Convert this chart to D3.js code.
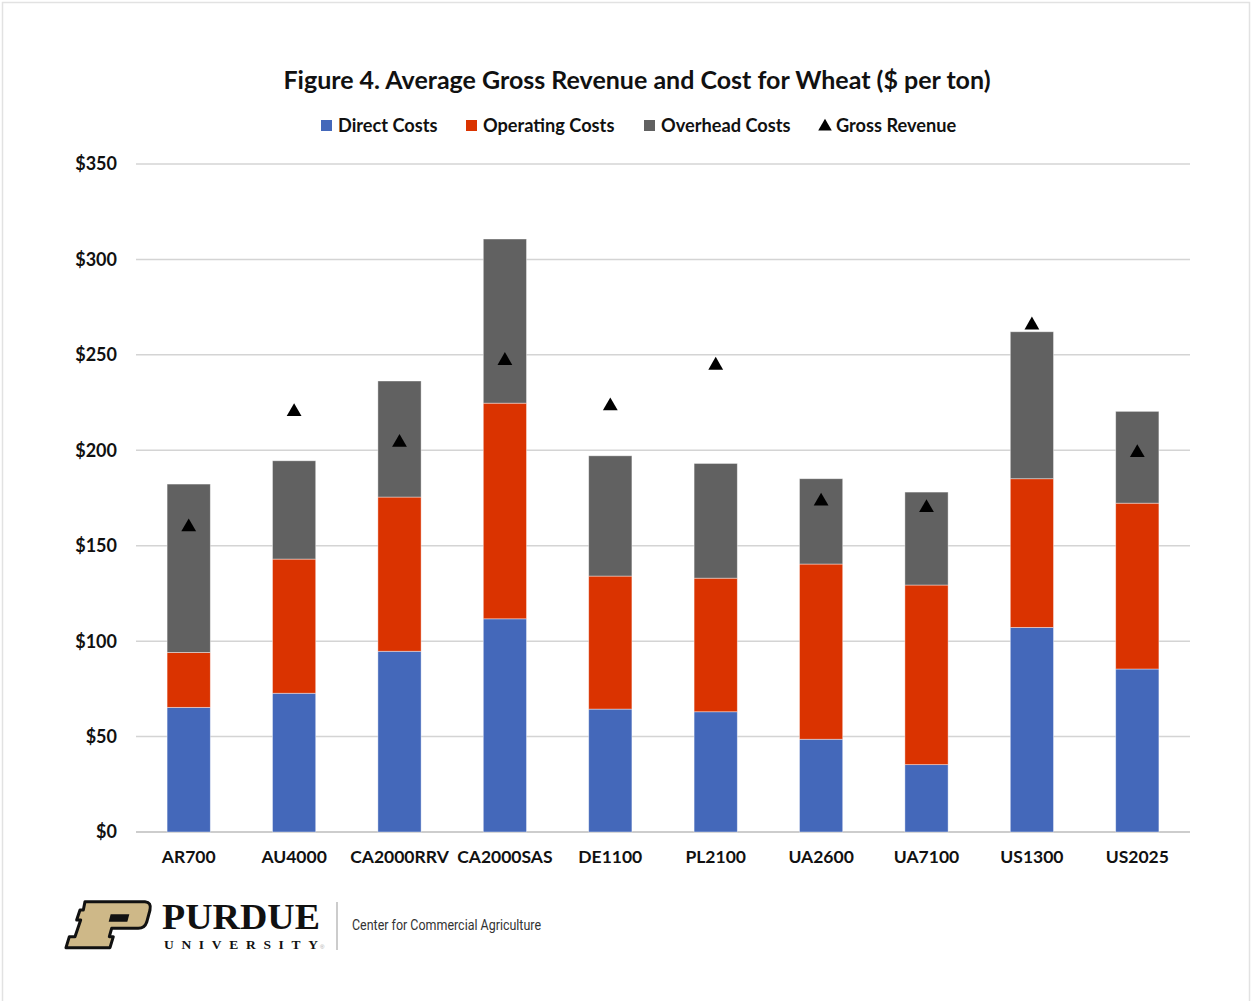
<!DOCTYPE html>
<html>
<head>
<meta charset="utf-8">
<script src="https://cdn.jsdelivr.net/npm/d3@7"></script>
<style>
html,body{margin:0;padding:0;background:#fff;}
svg{display:block;}
</style>
</head>
<body>
<svg id="chart" width="1252" height="1001"></svg>
<script>
const categories = ["AR700","AU4000","CA2000RRV","CA2000SAS","DE1100","PL2100","UA2600","UA7100","US1300","US2025"];
const directCosts    = [65.3, 72.7, 94.7, 111.7, 64.4, 63.0, 48.6, 35.3, 107.2, 85.4];
const operatingCosts = [28.8, 70.3, 80.8, 113.0, 69.7, 70.0, 91.8, 94.1, 77.9, 86.9];
const overheadCosts  = [88.2, 51.5, 60.8, 86.0, 63.0, 60.1, 44.7, 48.7, 77.0, 48.1];
const grossRevenue   = [160.3, 220.7, 204.6, 247.5, 223.7, 245.0, 173.8, 170.4, 266.1, 199.2];
const yTicks = [0, 50, 100, 150, 200, 250, 300, 350];
const seriesNames = ["Direct Costs","Operating Costs","Overhead Costs"];
const seriesColors = ["#4468BA","#DA3300","#616161"];

const svg = d3.select("#chart");
const font = "Lato, 'Open Sans', sans-serif";

// outer frame
svg.append("rect").attr("x",2.5).attr("y",2.5).attr("width",1247).attr("height",1010)
  .attr("fill","none").attr("stroke","#e2e2e2").attr("stroke-width",1.5);

const mLeft = 136, mRight = 1190, mTop = 164, mBottom = 832;
const x = d3.scaleBand().domain(categories).range([mLeft,mRight]).padding(0);
const y = d3.scaleLinear().domain([0,350]).range([mBottom, mTop]);

// gridlines
svg.append("g").selectAll("line").data(yTicks).join("line")
  .attr("x1",mLeft).attr("x2",mRight)
  .attr("y1",d=>y(d)).attr("y2",d=>y(d))
  .attr("stroke",d=>d===0?"#bdbdbd":"#d4d4d4").attr("stroke-width",1.5);

// y labels
svg.append("g").selectAll("text").data(yTicks).join("text")
  .attr("x",117).attr("y",d=>y(d)).attr("dy","0.36em")
  .attr("text-anchor","end").attr("font-family",font).attr("font-weight","bold")
  .attr("font-size",18).attr("fill","#111")
  .text(d=>"$"+d);

// stacked bars
const rows = categories.map((c,i)=>({cat:c, d:directCosts[i], o:operatingCosts[i], h:overheadCosts[i]}));
const stack = d3.stack().keys(["d","o","h"])(rows);
const barW = x.bandwidth()*0.41;
svg.append("g").selectAll("g").data(stack).join("g")
  .attr("fill",(s,i)=>seriesColors[i])
  .selectAll("rect").data(s=>s).join("rect")
  .attr("x",d=>x(d.data.cat)+x.bandwidth()/2-barW/2)
  .attr("width",barW)
  .attr("y",d=>y(d[1]))
  .attr("height",d=>y(d[0])-y(d[1]))
  .attr("stroke","#ffffff").attr("stroke-opacity",0.5).attr("stroke-width",0.8);

// revenue triangles
const tri = d3.symbol().type(d3.symbolTriangle).size(95);
svg.append("g").selectAll("path").data(grossRevenue).join("path")
  .attr("d",tri)
  .attr("transform",(d,i)=>`translate(${x(categories[i])+x.bandwidth()/2},${y(d)+1})`)
  .attr("fill","#000");

// x labels
svg.append("g").selectAll("text").data(categories).join("text")
  .attr("x",d=>x(d)+x.bandwidth()/2).attr("y",863)
  .attr("text-anchor","middle").attr("font-family",font).attr("font-weight","bold")
  .attr("font-size",17.5).attr("fill","#111")
  .text(d=>d);

// title
svg.append("text").attr("x",637).attr("y",89).attr("text-anchor","middle")
  .attr("font-family",font).attr("font-weight","bold").attr("font-size",25).attr("fill","#111")
  .text("Figure 4. Average Gross Revenue and Cost for Wheat ($ per ton)");

// legend
const legendItems = [
  {name:seriesNames[0], color:seriesColors[0], x:321, type:"sq"},
  {name:seriesNames[1], color:seriesColors[1], x:466, type:"sq"},
  {name:seriesNames[2], color:seriesColors[2], x:644, type:"sq"},
  {name:"Gross Revenue", color:"#000", x:818, type:"tri"}
];
const lg = svg.append("g");
legendItems.forEach(it=>{
  if(it.type==="sq"){
    lg.append("rect").attr("x",it.x).attr("y",120).attr("width",11).attr("height",11).attr("fill",it.color);
  } else {
    lg.append("path").attr("d",d3.symbol().type(d3.symbolTriangle).size(80)())
      .attr("transform",`translate(${it.x+7},${126.5})`).attr("fill","#000");
  }
  lg.append("text").attr("x",it.x+(it.type==="sq"?17:18)).attr("y",131.5)
    .attr("font-family",font).attr("font-weight","bold").attr("font-size",18.2).attr("fill","#111")
    .text(it.name);
});

// Purdue logo
const logo = svg.append("g").attr("transform","translate(60,895) scale(0.3333)");
logo.append("path")
  .attr("d","M75,20 L255,20 Q275,22 270,45 L260,82 Q254,100 235,100 L155,100 L148,125 L160,125 L150,158 L18,158 L28,125 L45,125 L62,75 L50,75 L60,45 L70,45 Z")
  .attr("fill","#CEB888").attr("stroke","#111").attr("stroke-width",9).attr("stroke-linejoin","round");
logo.append("path").attr("d","M152,58 L208,58 L202,80 L146,80 Z").attr("fill","#111");

svg.append("text").attr("x",162).attr("y",929)
  .attr("font-family","'Liberation Serif', 'DejaVu Serif', serif").attr("font-weight","bold")
  .attr("font-size",36).attr("fill","#111").attr("textLength",158).attr("lengthAdjust","spacingAndGlyphs")
  .text("PURDUE");
svg.append("text").attr("x",164).attr("y",949)
  .attr("font-family","'Liberation Serif', 'DejaVu Serif', serif").attr("font-weight","bold")
  .attr("font-size",13.5).attr("fill","#111").attr("textLength",154).attr("lengthAdjust","spacing")
  .text("UNIVERSITY");
svg.append("text").attr("x",320).attr("y",949).attr("font-size",6).attr("fill","#aaa")
  .attr("font-family","sans-serif").text("®");
svg.append("line").attr("x1",337).attr("x2",337).attr("y1",902).attr("y2",950)
  .attr("stroke","#999").attr("stroke-width",1);
svg.append("text").attr("x",352).attr("y",930)
  .attr("font-family","Roboto, sans-serif").attr("font-size",14).attr("fill","#333")
  .attr("textLength",189).attr("lengthAdjust","spacingAndGlyphs")
  .text("Center for Commercial Agriculture");
</script>
</body>
</html>
